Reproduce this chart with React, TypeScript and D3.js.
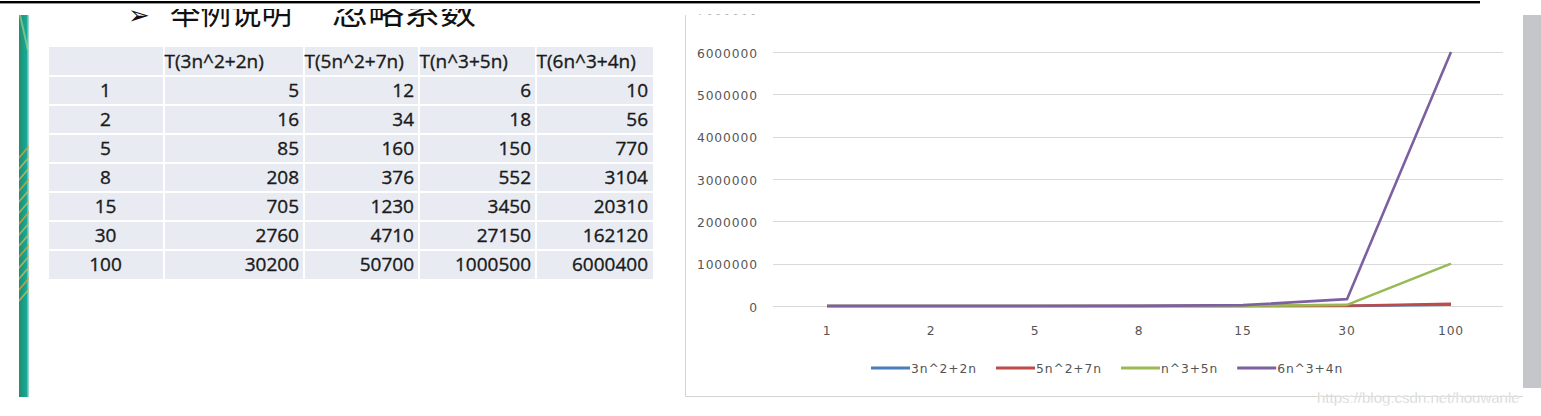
import React from "react";
import * as d3 from "d3";

// ---------- data ----------
const categories = ["1", "2", "5", "8", "15", "30", "100"];
const seriesNames = ["3n^2+2n", "5n^2+7n", "n^3+5n", "6n^3+4n"];
const tableHeaders = ["T(3n^2+2n)", "T(5n^2+7n)", "T(n^3+5n)", "T(6n^3+4n)"];
const s3n2 = [5, 16, 85, 208, 705, 2760, 30200];
const s5n2 = [12, 34, 160, 376, 1230, 4710, 50700];
const sn3 = [6, 18, 150, 552, 3450, 27150, 1000500];
const s6n3 = [10, 56, 770, 3104, 20310, 162120, 6000400];
const seriesValues = [s3n2, s5n2, sn3, s6n3];
const yTicks = [0, 1000000, 2000000, 3000000, 4000000, 5000000, 6000000, 7000000];
const titleArrow = "➢";
const titleParts = ["举例说明", "忽略系数"];
const watermark = "https://blog.csdn.net/houwanle";

// ---------- style ----------
const colors = ["#4a7ebb", "#be4b48", "#98b954", "#7d60a0"];
const W = 1541;
const H = 416;
const tableFont = "'Open Sans', 'DejaVu Sans', sans-serif";
const chartFont = "'DejaVu Sans', Verdana, sans-serif";

export default function App() {
  // table geometry
  const colEdges = [49, 164, 304, 419, 536, 653];
  const rowCount = categories.length + 1;
  const rowY = d3.scaleLinear().domain([0, rowCount]).range([47, 279]);

  // chart scales
  const x = d3.scaleBand<string>().domain(categories).range([775, 1503]);
  const xc = (c: string) => (x(c) as number) + x.bandwidth() / 2;
  const y = d3.scaleLinear().domain([0, 7000000]).range([306, 9.7]);
  const line = d3
    .line<number>()
    .x((_, i) => xc(categories[i]))
    .y((v) => y(v));

  // legend layout
  const legendCharW = 8.86;
  const legendItems: { name: string; x: number; color: string }[] = [];
  let lx = 871;
  seriesNames.forEach((n, i) => {
    legendItems.push({ name: n, x: lx, color: colors[i] });
    lx += 40 + n.length * legendCharW + 23;
  });

  const streaks = d3.range(14);

  return (
    <svg
      width={W}
      height={H}
      viewBox={`0 0 ${W} ${H}`}
      style={{ position: "absolute", left: 0, top: 0, background: "#fff" }}
    >
      <defs>
        <linearGradient id="stripe" x1="0" x2="1" y1="0" y2="0">
          <stop offset="0" stopColor="#2b8a66" />
          <stop offset="0.45" stopColor="#14a08a" />
          <stop offset="0.75" stopColor="#1aa898" />
          <stop offset="1" stopColor="#b9e3dd" />
        </linearGradient>
        <clipPath id="stripeClip">
          <rect x={19} y={15} width={10} height={382} />
        </clipPath>
        <clipPath id="titleClip">
          <rect x={100} y={9} width={450} height={30} />
        </clipPath>
        <clipPath id="chartClip">
          <rect x={686} y={14.5} width={837} height={383} />
        </clipPath>
      </defs>

      {/* top rule */}
      <rect x={0} y={1} width={1480} height={2.4} fill="#000" />

      {/* left decorative stripe */}
      <g clipPath="url(#stripeClip)">
        <rect x={19} y={15} width={10} height={382} fill="url(#stripe)" />
        {streaks.map((i) => (
          <line
            key={i}
            x1={17}
            x2={31}
            y1={150 + i * 11 + 10}
            y2={150 + i * 11 - 6}
            stroke={i % 3 === 0 ? "#f0a030" : "#d9b860"}
            strokeOpacity={0.75}
            strokeWidth={1.6}
          />
        ))}
        <line x1={20} x2={28} y1={15} y2={50} stroke="#b8d88a" strokeOpacity={0.6} strokeWidth={2} />
      </g>

      {/* title (cropped at the top, as in the reference) */}
      <g clipPath="url(#titleClip)" fontFamily="'Noto Sans CJK SC', sans-serif" fill="#111">
        <text x={128} y={24} fontSize={26}>
          {titleArrow}
        </text>
        <text x={170} y={24} fontSize={32} textLength={122} lengthAdjust="spacingAndGlyphs">
          {titleParts[0]}
        </text>
        <text x={332} y={24} fontSize={32} textLength={144} lengthAdjust="spacingAndGlyphs">
          {titleParts[1]}
        </text>
      </g>

      {/* table */}
      <g fontFamily={tableFont} fontSize={19} fill="#1a1a1a" stroke="#1a1a1a" strokeWidth={0.35}>
        {d3.range(rowCount).map((r) =>
          d3.range(colEdges.length - 1).map((c) => (
            <rect
              key={`c${r}-${c}`}
              x={colEdges[c] + (c === 0 ? 0 : 1)}
              y={rowY(r) + (r === 0 ? 0 : 1)}
              width={colEdges[c + 1] - colEdges[c] - (c === 0 ? 1 : 2) + (c === colEdges.length - 2 ? 1 : 0)}
              height={rowY(r + 1) - rowY(r) - (r === 0 ? 1 : 2) + (r === rowCount - 1 ? 1 : 0)}
              fill="#e8ebf1"
              stroke="none"
            />
          ))
        )}
        {tableHeaders.map((h, c) => (
          <text key={h} x={colEdges[c + 1] + 0.5} y={(rowY(0) + rowY(1)) / 2 + 6.5}>
            {h}
          </text>
        ))}
        {categories.map((cat, r) => {
          const cy = (rowY(r + 1) + rowY(r + 2)) / 2 + 6.5;
          return (
            <g key={cat}>
              <text x={(colEdges[0] + colEdges[1]) / 2 - 1} y={cy} textAnchor="middle">
                {cat}
              </text>
              {seriesValues.map((vals, c) => (
                <text key={c} x={colEdges[c + 2] - 5} y={cy} textAnchor="end">
                  {vals[r]}
                </text>
              ))}
            </g>
          );
        })}
      </g>

      {/* chart frame */}
      <line x1={685.5} x2={685.5} y1={15} y2={397} stroke="#d4d4d4" />
      <line x1={685} x2={1523} y1={396.5} y2={396.5} stroke="#d4d4d4" />
      <rect x={1523} y={15} width={18} height={373} fill="#c4c6ca" />

      <g clipPath="url(#chartClip)" fontFamily={chartFont} fontSize={12.3} letterSpacing={0.9} fill="#545454">
        {yTicks.map((t) => (
          <g key={t}>
            <line x1={773} x2={1503} y1={Math.round(y(t)) + 0.5} y2={Math.round(y(t)) + 0.5} stroke="#d9d9d9" />
            <text x={758} y={y(t) + 5.5} textAnchor="end">
              {t}
            </text>
          </g>
        ))}
        {categories.map((c) => (
          <text key={c} x={xc(c)} y={334.5} textAnchor="middle">
            {c}
          </text>
        ))}
        {seriesValues.map((vals, i) => (
          <path
            key={i}
            d={line(vals) as string}
            fill="none"
            stroke={colors[i]}
            strokeWidth={2.6}
            strokeLinejoin="round"
          />
        ))}
        {legendItems.map((it) => (
          <g key={it.name}>
            <line x1={it.x} x2={it.x + 39} y1={368} y2={368} stroke={it.color} strokeWidth={3} />
            <text x={it.x + 40} y={372.5}>
              {it.name}
            </text>
          </g>
        ))}
      </g>

      {/* watermark */}
      <text
        x={1317}
        y={403}
        fontFamily="'Liberation Sans', Arial, sans-serif"
        fontSize={15}
        fill="#cfcfcf"
        stroke="#ffffff"
        strokeWidth={0.3}
      >
        {watermark}
      </text>
    </svg>
  );
}
